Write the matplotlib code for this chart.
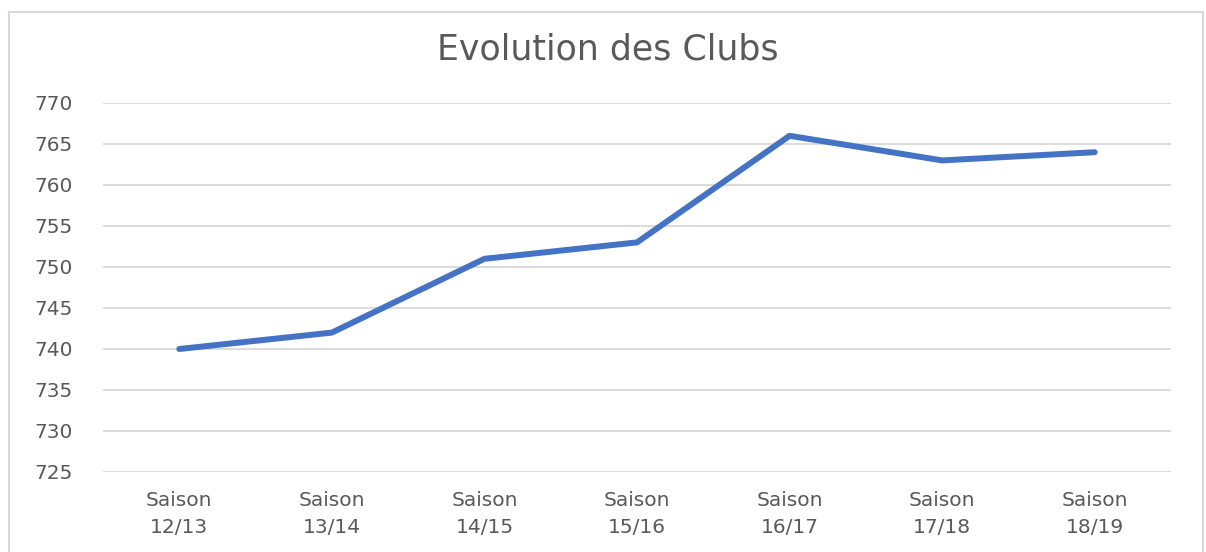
import matplotlib.pyplot as plt
from matplotlib.patches import Rectangle

# ===== données =====
saisons = ["12/13", "13/14", "14/15", "15/16", "16/17", "17/18", "18/19"]
clubs = [740, 742, 751, 753, 766, 763, 764]
y_ticks = list(range(725, 771, 5))

TXT = "#595959"
GRID = "#D9D9D9"
BLUE = "#4472C4"

plt.rcParams["font.family"] = ["DejaVu Sans"]

fig = plt.figure(figsize=(12.06, 5.52), dpi=100)
# cadre du graphique
fig.patches.append(Rectangle((9 / 1206, -0.05), 1194 / 1206, 1 - 12 / 552 + 0.05,
                             transform=fig.transFigure, fill=False,
                             edgecolor=GRID, linewidth=1.5))

ax = fig.add_axes([103 / 1206, 1 - 472 / 552, (1171 - 103) / 1206, (472 - 103) / 552])
x = range(len(saisons))
ax.plot(x, clubs, color=BLUE, linewidth=4.3, solid_capstyle="round", solid_joinstyle="round")

ax.set_xlim(-0.5, len(saisons) - 0.5)
ax.set_ylim(725, 770)
ax.set_yticks(y_ticks)
ax.set_xticks(list(x))
ax.set_xticklabels([f"Saison\n{s}" for s in saisons], linespacing=1.5)
ax.grid(axis="y", color=GRID, linewidth=1.3)
ax.set_axisbelow(True)
for sp in ax.spines.values():
    sp.set_visible(False)
ax.tick_params(axis="both", length=0, colors=TXT, labelsize=14.5)
ax.tick_params(axis="y", pad=22)
ax.tick_params(axis="x", pad=14)

fig.text(0.504, 1 - 50 / 552, "Evolution des Clubs", ha="center", va="center",
         fontsize=25, color=TXT)

fig.savefig("out.png", dpi=100)
